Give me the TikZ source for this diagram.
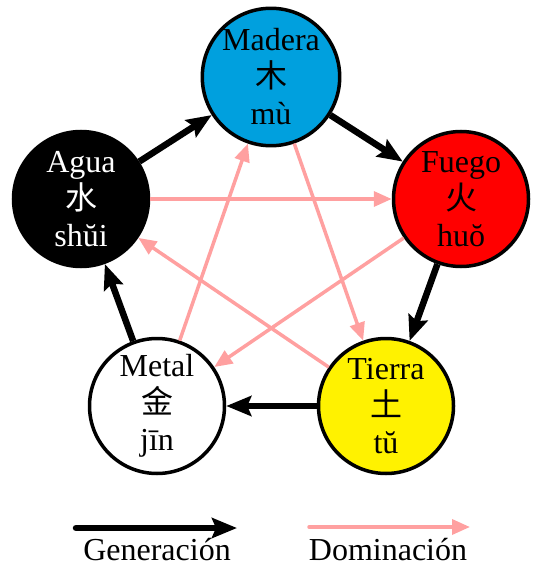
\documentclass[tikz,border=0pt]{standalone}
\usepackage{fontspec}
\setmainfont{Liberation Serif}
\newfontfamily\cjk{Noto Sans CJK SC}
\usetikzlibrary{arrows.meta}

\definecolor{woodblue}{RGB}{0,160,222}
\definecolor{dompink}{RGB}{255,160,160}

\begin{document}
\begin{tikzpicture}[
        x=1pt, y=-1pt,
        element/.style={circle, draw=black, line width=3.5pt, minimum size=135pt, inner sep=0pt, align=center, font=\fontsize{32}{37}\selectfont},
        gen/.style={-{Stealth[length=25pt, width=20pt, inset=4pt]}, line width=6.5pt},
        dom/.style={-{Triangle[length=18pt, width=15pt]}, line width=3.5pt, draw=dompink},
        legendtext/.style={font=\fontsize{32}{37}\selectfont, anchor=base}
        ]
        \useasboundingbox (0,0) rectangle (533,567);

        \node[element, fill=woodblue] (madera) at (271,77) {Madera\\{\cjk 木}\\mù};
        \node[element, fill=red] (fuego) at (461,199) {Fuego\\{\cjk 火}\\huŏ};
        \node[element, fill=yellow] (tierra) at (386,406) {Tierra\\{\cjk 土}\\tŭ};
        \node[element, fill=white] (metal) at (157,406) {Metal\\{\cjk 金}\\jīn};
        \node[element, fill=black, text=white] (agua) at (81,199) {Agua\\{\cjk 水}\\shŭi};

        % generation cycle
        \draw[gen] (agua) -- (madera);
        \draw[gen] (madera) -- (fuego);
        \draw[gen] (fuego) -- (tierra);
        \draw[gen] (tierra) -- (metal);
        \draw[gen] (metal) -- (agua);

        % domination star
        \draw[dom] (agua) -- (fuego);
        \draw[dom] (fuego) -- (metal);
        \draw[dom] (metal) -- (madera);
        \draw[dom] (madera) -- (tierra);
        \draw[dom] (tierra) -- (agua);

        % legend
        \coordinate (genstart) at (76,528);
        \coordinate (genend) at (237,528);
        \coordinate (domstart) at (309,527);
        \coordinate (domend) at (470,527);
        \draw[gen, line cap=round] (genstart) -- (genend);
        \draw[dom, line cap=round] (domstart) -- (domend);
        \node[legendtext] (genlabel) at (157,560) {Generación};
        \node[legendtext] (domlabel) at (388,560) {Dominación};
    \end{tikzpicture}
\end{document}
